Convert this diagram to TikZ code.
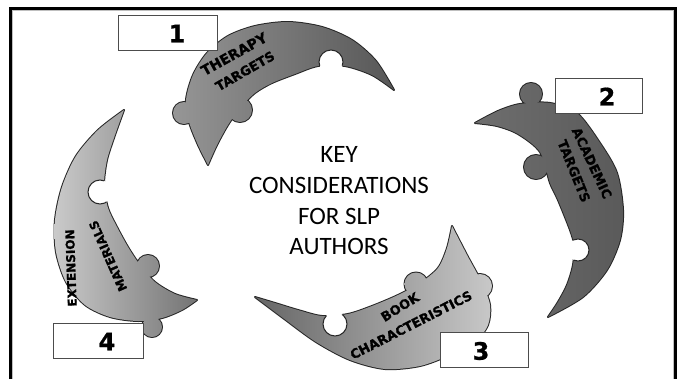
\documentclass[tikz,border=0pt]{standalone}
\usepackage[svgnames]{xcolor}
\usepackage{fontspec}
\usepackage{tikz}
\newfontfamily\keyfont{Carlito}
\newfontfamily\moonfont{DejaVu Sans Bold}[FakeBold=1.2]
\newfontfamily\digitfont{DejaVu Sans Bold}[FakeBold=0.8]
\colorlet{frameRule}{black}
\colorlet{frameShade}{black!25}
\colorlet{moonEdge}{black!85}
\colorlet{boxEdge}{black!70}
\definecolor{therapyLeft}{HTML}{969696}
\definecolor{therapyRight}{HTML}{575757}
\definecolor{academicLeft}{HTML}{6E6E6E}
\definecolor{academicRight}{HTML}{5A5A5A}
\definecolor{bookLeft}{HTML}{666666}
\definecolor{bookRight}{HTML}{C8C8C8}
\definecolor{extensionLeft}{HTML}{CACACA}
\definecolor{extensionRight}{HTML}{747474}

% #1 body, #2 knobs, #3 notches, #4 and #5 shading
\newcommand\puzzlemoon[5]{%
  \begin{scope}[local bounding box=moonbox]
    \draw[moon outline] #1 #2;
  \end{scope}
  \begin{scope}
    \clip #1;
    \shade[left color=#4,right color=#5] (moonbox.south west) rectangle (moonbox.north east);
  \end{scope}
  \begin{scope}
    \clip #2;
    \shade[left color=#4,right color=#5] (moonbox.south west) rectangle (moonbox.north east);
  \end{scope}
  \fill[white] #3;
  \begin{scope}
    \clip #1;
    \draw[moon edge] #3;
  \end{scope}
}

\begin{document}
\begin{tikzpicture}[
  x=1pt,
  y=-1pt,
  frame line/.style={
    draw=frameRule,
    line width=3pt,
  },
  frame shadow/.style={
    draw=frameShade,
    line width=0.8pt,
  },
  moon outline/.style={
    draw=moonEdge,
    line width=2pt,
    line join=round,
  },
  moon edge/.style={
    draw=moonEdge,
    line width=1pt,
  },
  moon label/.style={
    font=\moonfont\fontsize{#1}{#1}\selectfont,
    text=black,
    inner sep=0pt,
  },
  moon label/.default=13,
  key text/.style={
    font=\keyfont\fontsize{25}{30.7}\selectfont,
    align=center,
    inner sep=0pt,
  },
  number box/.style={
    draw=boxEdge,
    fill=white,
    line width=0.8pt,
    minimum height=35pt,
  },
  number digit/.style={
    font=\digitfont\fontsize{24}{26}\selectfont,
    inner sep=0pt,
  }
]
\path (0,0) rectangle (683,379);

\draw[frame shadow] (12.4,379) -- (12.4,10.6) -- (673.4,10.6) -- (673.4,379);
\draw[frame line] (10,379) -- (10,8.5) -- (675.5,8.5) -- (675.5,379);

\puzzlemoon
  {plot[smooth] coordinates {(208,165) (198,145) (189,122) (186,100) (193,75) (207,53) (228,36) (255,26) (288,22) (322,27) (352,40) (376,61) (394,90)}
   -- plot[smooth] coordinates {(394,90) (372,75) (345,66) (318,66) (295,74) (272,83) (255,93) (240,108) (228,125) (217,145) (208,165)} -- cycle}
  {(184,113) circle (11) (240,110) circle (12)}
  {(331,62) circle (12)}
  {therapyLeft}{therapyRight}

\puzzlemoon
  {plot[smooth] coordinates {(475,123) (498,111) (520,104) (550,103) (577,113) (600,143) (617,173) (623,210) (620,240) (607,270) (583,297) (548,317)}
   -- plot[smooth] coordinates {(548,317) (558,302) (567,285) (573,265) (574,245) (570,230) (558,200) (550,183) (540,152) (518,134) (497,126) (475,123)} -- cycle}
  {(531,94) circle (11) (536,167) circle (12)}
  {(578,250) circle (11)}
  {academicLeft}{academicRight}

\puzzlemoon
  {plot[smooth] coordinates {(255,297) (283,318) (316,342) (350,360) (385,369) (420,366) (450,355) (475,342) (488,325) (490,305) (482,283) (467,255) (452,226)}
   -- plot[smooth] coordinates {(452,226) (447,248) (438,268) (420,283) (398,295) (372,306) (348,314) (322,316) (298,310) (275,303) (255,297)} -- cycle}
  {(480,286) circle (12) (416,284) circle (11.5)}
  {(335,324) circle (12)}
  {bookLeft}{bookRight}

\puzzlemoon
  {plot[smooth] coordinates {(124,110) (98,130) (76,156) (62,187) (55,220) (56,252) (66,282) (85,305) (110,317) (138,321) (162,318) (182,310) (197,300)}
   -- plot[smooth] coordinates {(197,300) (175,294) (155,282) (140,265) (128,247) (117,227) (108,208) (104,185) (107,160) (115,135) (124,110)} -- cycle}
  {(152,327) circle (10) (148,266) circle (11)}
  {(100,192) circle (12)}
  {extensionLeft}{extensionRight}

\node[moon label=14, rotate=29] (therapy) at (234,54) {THERAPY};
\node[moon label=13, rotate=30] (therapy targets) at (245,71) {TARGETS};
\node[moon label=13, rotate=-65] (academic) at (592,163) {ACADEMIC};
\node[moon label=13, rotate=-68] (academic targets) at (574,171) {TARGETS};
\node[moon label=13, rotate=32] (book) at (400,307) {BOOK};
\node[moon label=13, rotate=27] (characteristics) at (411,325) {CHARACTERISTICS};
\node[moon label=12, rotate=92] (extension) at (71,268) {EXTENSION};
\node[moon label=12, rotate=114] (materials) at (108,256) {MATERIALS};

\node[key text] (key) at (339,201) {KEY\\CONSIDERATIONS\\FOR SLP\\AUTHORS};

\foreach \n/\x/\y/\w/\nx in {1/167.5/32.5/99/177, 2/598.5/95.5/87/607, 3/484/350/88/481, 4/98/340.5/90/107}
{
  \node[number box, minimum width=\w pt] (box\n) at (\x,\y) {};
  \node[number digit] (digit\n) at (\nx,\y+1) {\n};
}
\end{tikzpicture}
\end{document}
